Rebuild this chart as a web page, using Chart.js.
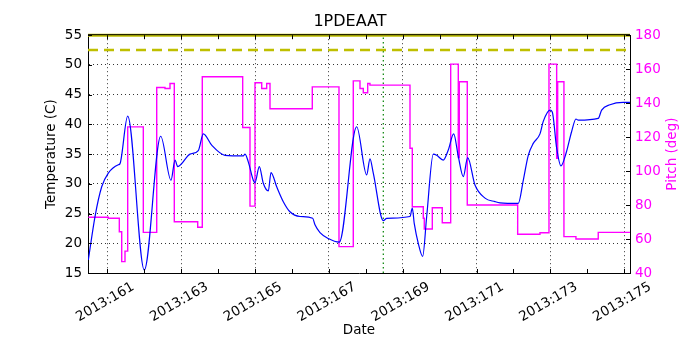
<!DOCTYPE html>
<html>
<head>
<meta charset="utf-8">
<script src="https://cdn.jsdelivr.net/npm/chart.js@4/dist/chart.umd.min.js"></script>
<style>
  html, body { margin: 0; padding: 0; background: #fff; }
  canvas { display: block; }
</style>
</head>
<body>
<canvas id="chart" width="700" height="350"></canvas>
<script>
// day-of-year 2013 (fractional) for each sample
const tempDays = [160.486, 160.667, 160.848, 161.027, 161.298, 161.344, 161.552, 162.002, 162.446, 162.725,
  162.833, 162.906, 163.239, 163.464, 163.600, 163.827, 164.187, 164.683, 164.729, 164.818,
  164.953, 164.999, 165.116, 165.224, 165.360, 165.433, 165.587, 165.766, 165.947, 166.218,
  166.562, 166.624, 166.760, 166.984, 167.282, 167.753, 168.024, 168.113, 168.203, 168.474,
  168.566, 169.197, 169.259, 169.313, 169.421, 169.540, 169.649, 169.828, 169.920, 170.098,
  170.234, 170.380, 170.505, 170.640, 170.759, 170.957, 171.228, 171.499, 171.634, 172.129,
  172.265, 172.400, 172.535, 172.717, 172.806, 172.988, 173.050, 173.169, 173.285, 173.421,
  173.575, 173.691, 173.754, 174.295, 174.387, 174.612, 174.972, 175.154];
const tempValues = [17.2, 24.5, 29.5, 31.8, 33.2, 33.4, 41.4, 15.5, 38.0, 30.6,
  34.0, 32.9, 35.0, 35.6, 38.4, 36.5, 34.8, 34.7, 35.0, 33.7,
  30.6, 30.2, 32.9, 30.1, 28.8, 31.9, 29.5, 27.0, 25.3, 24.5,
  24.2, 23.1, 21.8, 20.8, 20.2, 39.6, 31.5, 34.2, 31.8, 23.8,
  24.2, 24.5, 25.9, 23.3, 20.0, 17.8, 24.5, 35.0, 34.8, 34.0,
  35.7, 38.4, 34.6, 31.2, 34.4, 29.8, 27.6, 27.0, 26.8, 26.7,
  30.6, 34.8, 36.8, 38.4, 40.5, 42.4, 42.1, 36.0, 33.0, 35.1,
  38.8, 40.9, 40.7, 41.0, 42.4, 43.3, 43.7, 43.7];

// pitch holds each value until the next day listed
const pitchDays = [160.486, 161.027, 161.325, 161.390, 161.479, 161.552, 161.975, 162.338, 162.562, 162.698,
  162.814, 163.448, 163.572, 164.666, 164.864, 164.999, 165.181, 165.316, 165.406, 166.551,
  167.274, 167.661, 167.843, 167.932, 168.051, 168.113, 169.197, 169.259, 169.557, 169.584,
  169.801, 170.071, 170.299, 170.505, 170.532, 170.748, 172.113, 172.717, 172.961, 173.169,
  173.196, 173.366, 173.691, 174.295, 175.154];
const pitchValues = [72.8, 72.2, 64.3, 46.7, 52.9, 126.0, 63.9, 149.2, 148.6, 151.6,
  70.2, 66.9, 155.5, 125.7, 79.4, 152.0, 148.6, 151.6, 136.7, 149.6,
  55.5, 153.1, 148.6, 146.1, 151.6, 150.6, 113.4, 79.0, 72.2, 65.9,
  78.4, 69.6, 163.0, 108.0, 152.6, 80.0, 62.8, 63.7, 163.0, 107.5,
  152.6, 61.4, 60.0, 63.9, 63.9];

const xTickDays = [161, 162, 163, 164, 165, 166, 167, 168, 169, 170, 171, 172, 173, 174, 175];
const xRange = [160.477, 175.155];
const tempRange = [15, 55];
const pitchRange = [40, 180];
const planningLimit = 55;
const cautionLimit = 52.5;
const markerDay = 168.474;

const BLUE = "#0000ff";
const MAGENTA = "#ff00ff";
const OLIVE = "#bfbf00";

Chart.defaults.font.family = "DejaVu Sans";
Chart.defaults.font.size = 13.5;
Chart.defaults.color = "#000";

// inward tick marks, top frame line, right-hand axis label
const frame = {
  id: "frame",
  afterDatasetsDraw(chart) {
    const ctx = chart.ctx;
    const a = chart.chartArea;
    const { x, y, y2 } = chart.scales;
    const len = 4;
    ctx.save();
    ctx.strokeStyle = "#000";
    ctx.lineWidth = 1;
    ctx.beginPath();
    ctx.moveTo(a.left, a.top - 0.5);
    ctx.lineTo(a.right, a.top - 0.5);
    xTickDays.forEach((d) => {
      const px = Math.round(x.getPixelForValue(d)) + 0.5;
      ctx.moveTo(px, a.bottom);
      ctx.lineTo(px, a.bottom - len);
      ctx.moveTo(px, a.top);
      ctx.lineTo(px, a.top + len);
    });
    y.ticks.forEach((t) => {
      const py = Math.round(y.getPixelForValue(t.value)) + 0.5;
      ctx.moveTo(a.left, py);
      ctx.lineTo(a.left + len, py);
    });
    y2.ticks.forEach((t) => {
      const py = Math.round(y2.getPixelForValue(t.value)) + 0.5;
      ctx.moveTo(a.right, py);
      ctx.lineTo(a.right - len, py);
    });
    ctx.stroke();

    ctx.translate(672, (a.top + a.bottom) / 2);
    ctx.rotate(-Math.PI / 2);
    ctx.fillStyle = MAGENTA;
    ctx.font = "13.5px 'DejaVu Sans'";
    ctx.textAlign = "center";
    ctx.textBaseline = "middle";
    ctx.fillText("Pitch (deg)", 0, 0);
    ctx.restore();
  },
};

const pts = (xs, ys) => xs.map((d, i) => ({ x: d, y: ys[i] }));

new Chart(document.getElementById("chart"), {
  type: "line",
  data: {
    datasets: [
      {
        label: "Temperature",
        data: pts(tempDays, tempValues),
        yAxisID: "y",
        borderColor: BLUE,
        borderWidth: 1.2,
        pointRadius: 0,
        cubicInterpolationMode: "monotone",
      },
      {
        label: "Planning limit",
        data: pts(xRange, [planningLimit, planningLimit]),
        yAxisID: "y",
        borderColor: OLIVE,
        borderWidth: 3,
        pointRadius: 0,
        clip: false,
      },
      {
        label: "Caution limit",
        data: pts(xRange, [cautionLimit, cautionLimit]),
        yAxisID: "y",
        borderColor: OLIVE,
        borderWidth: 2.5,
        borderDash: [10, 6],
        pointRadius: 0,
      },
      {
        label: "Now",
        data: pts([markerDay, markerDay], tempRange),
        yAxisID: "y",
        borderColor: "#008000",
        borderWidth: 1.2,
        borderDash: [1.5, 3],
        pointRadius: 0,
      },
      {
        label: "Pitch",
        data: pts(pitchDays, pitchValues),
        yAxisID: "y2",
        borderColor: MAGENTA,
        borderWidth: 1.4,
        pointRadius: 0,
        stepped: true,
      },
    ],
  },
  options: {
    responsive: false,
    animation: false,
    events: [],
    layout: { padding: 0 },
    plugins: {
      legend: { display: false },
      tooltip: { enabled: false },
      title: {
        display: true,
        text: "1PDEAAT",
        font: { size: 16, weight: "normal" },
        padding: { top: 12, bottom: 4 },
        color: "#000",
      },
    },
    scales: {
      x: {
        type: "linear",
        min: xRange[0],
        max: xRange[1],
        afterBuildTicks: (scale) => {
          scale.ticks = xTickDays.map((d) => ({ value: d }));
        },
        afterFit: (scale) => {
          scale.height = 77;
        },
        ticks: {
          autoSkip: false,
          minRotation: 30,
          maxRotation: 30,
          padding: 6,
          labelOffset: 26,
          callback: (v) => (v % 2 === 1 ? "2013:" + v : ""),
        },
        grid: {
          drawTicks: false,
          lineWidth: 0.8,
          color: (c) => (c.tick && c.tick.value % 2 === 1 ? "#000" : "rgba(0,0,0,0)"),
        },
        border: { display: true, color: "#000", width: 1, dash: [1, 3] },
        title: { display: true, text: "Date", padding: { top: 0, bottom: 11 } },
      },
      y: {
        position: "left",
        min: tempRange[0],
        max: tempRange[1],
        ticks: { stepSize: 5, padding: 6 },
        afterFit: (scale) => {
          scale.width = 88;
        },
        grid: { drawTicks: false, lineWidth: 0.8, color: "#000" },
        border: { display: true, color: "#000", width: 1, dash: [1, 3] },
        title: { display: true, text: "Temperature (C)", padding: { top: 43, bottom: 0 } },
      },
      y2: {
        position: "right",
        min: pitchRange[0],
        max: pitchRange[1],
        ticks: { stepSize: 20, padding: 5, color: MAGENTA },
        afterFit: (scale) => {
          scale.width = 70;
        },
        grid: { drawTicks: false, drawOnChartArea: false },
        border: { display: true, color: "#000", width: 1 },
      },
    },
  },
  plugins: [frame],
});
</script>
</body>
</html>
